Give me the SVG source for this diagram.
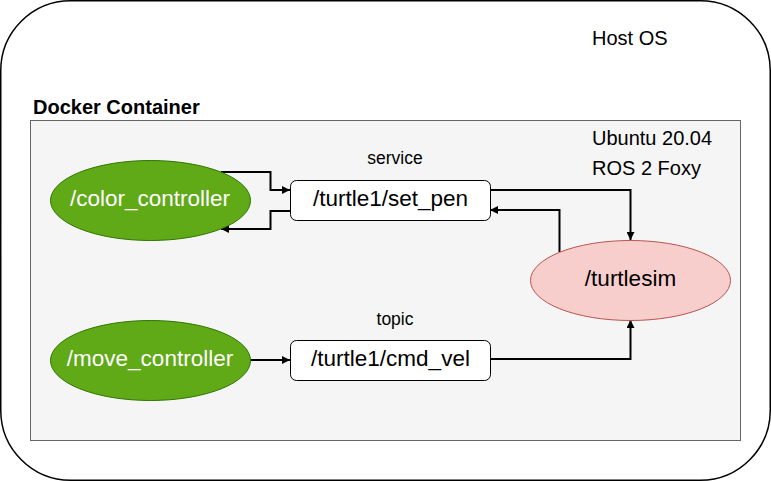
<svg xmlns="http://www.w3.org/2000/svg" width="771" height="481" viewBox="0 0 771 481">
  <style>
    .t { font-family: "Liberation Sans", Arial, sans-serif; fill: #000; }
    .node-green { fill: #60a917; stroke: #2d7600; stroke-width: 1; }
    .node-pink { fill: #f8cecc; stroke: #b85450; stroke-width: 1; }
    .box { fill: #ffffff; stroke: #000000; stroke-width: 1; }
    .lbl { font-family: "Liberation Sans", Arial, sans-serif; font-size: 22.5px; text-anchor: middle; }
    .edge { fill: none; stroke: #000; stroke-width: 2; marker-end: url(#arrow); }
  </style>
  <defs>
    <marker id="arrow" viewBox="0 0 10 10" refX="10" refY="5" markerWidth="10" markerHeight="8" markerUnits="userSpaceOnUse" orient="auto">
      <path d="M0,0 L10,5 L0,10 z" fill="#000"/>
    </marker>
  </defs>

  <g id="host">
    <rect x="0.75" y="0.75" width="769.5" height="479.5" rx="70" ry="70" fill="#ffffff" stroke="#000" stroke-width="1.5"/>
    <text class="t" x="592" y="44.5" font-size="20">Host OS</text>
  </g>

  <g id="docker">
    <rect x="30.5" y="120.5" width="710" height="320" fill="#f5f5f5" stroke="#666666" stroke-width="1"/>
    <text class="t" x="33" y="114" font-size="20" font-weight="bold">Docker Container</text>
    <text class="t" x="592" y="145" font-size="20">Ubuntu 20.04</text>
    <text class="t" x="592" y="175" font-size="20">ROS 2 Foxy</text>
  </g>

  <g id="connectors">
    <path class="edge" d="M221,172 H270.5 V190 H290"/>
    <path class="edge" d="M290,211 H270.5 V229 H221"/>
    <path class="edge" d="M490,190 H630.5 V240"/>
    <path class="edge" d="M559.5,252 V210 H490"/>
    <path class="edge" d="M250,360 H290"/>
    <path class="edge" d="M490,359 H630.5 V320"/>
  </g>

  <g id="color_controller">
    <ellipse class="node-green" cx="150.5" cy="200.5" rx="100" ry="40"/>
    <text class="lbl" x="150" y="206" fill="#ffffff">/color_controller</text>
  </g>

  <g id="move_controller">
    <ellipse class="node-green" cx="150.5" cy="360.5" rx="100" ry="40"/>
    <text class="lbl" x="150" y="366" fill="#ffffff">/move_controller</text>
  </g>

  <g id="set_pen">
    <text class="t" x="395" y="164" font-size="17.5" text-anchor="middle">service</text>
    <rect class="box" x="290.5" y="180.5" width="200" height="40" rx="6" ry="6"/>
    <text class="lbl" x="390.5" y="206">/turtle1/set_pen</text>
  </g>

  <g id="cmd_vel">
    <text class="t" x="395" y="325" font-size="17.5" text-anchor="middle">topic</text>
    <rect class="box" x="290.5" y="340.5" width="200" height="40" rx="6" ry="6"/>
    <text class="lbl" x="390.5" y="366">/turtle1/cmd_vel</text>
  </g>

  <g id="turtlesim">
    <ellipse class="node-pink" cx="630.5" cy="280.5" rx="100" ry="40"/>
    <text class="lbl" x="630.5" y="286">/turtlesim</text>
  </g>
</svg>
